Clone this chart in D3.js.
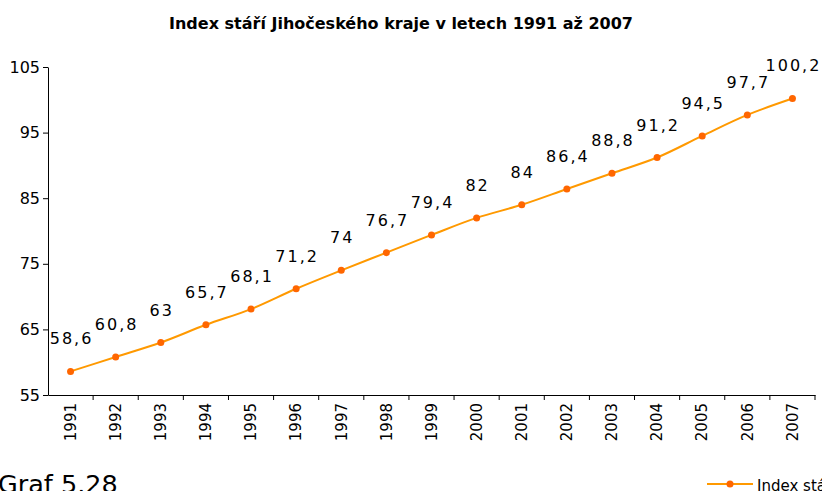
<!DOCTYPE html>
<html>
<head>
<meta charset="utf-8">
<script src="https://cdn.jsdelivr.net/npm/d3@7"></script>
<style>
  body { margin: 0; background: #fff; overflow: hidden; }
  text { font-family: "DejaVu Sans", Verdana, sans-serif; fill: #000; }
</style>
</head>
<body>
<svg width="822" height="491"></svg>
<script>
var years = ["1991","1992","1993","1994","1995","1996","1997","1998","1999","2000","2001","2002","2003","2004","2005","2006","2007"];
var values = [58.6, 60.8, 63, 65.7, 68.1, 71.2, 74, 76.7, 79.4, 82, 84, 86.4, 88.8, 91.2, 94.5, 97.7, 100.2];
var yTicks = [55, 65, 75, 85, 95, 105];
var seriesName = "Index stáří";

var svg = d3.select("svg"),
  width = +svg.attr("width"),
  height = +svg.attr("height");

var margin = {left: 48, right: 7, top: 67, bottom: 96};

var x = d3.scaleBand()
  .domain(years)
  .range([margin.left, width - margin.right]);

var y = d3.scaleLinear()
  .domain([55, 105])
  .range([height - margin.bottom, margin.top]);

var fmt = function(v) { return String(v).replace(".", ","); };

// title
svg.append("text")
  .attr("x", 401)
  .attr("y", 29)
  .attr("text-anchor", "middle")
  .style("font-size", "16px")
  .style("font-weight", "bold")
  .text("Index stáří Jihočeského kraje v letech 1991 až 2007");

// y axis
var yAxis = svg.append("g")
  .attr("transform", "translate(" + margin.left + ",0)")
  .call(d3.axisLeft(y).tickValues(yTicks).tickSize(5).tickSizeOuter(0));
yAxis.selectAll("text").style("font-size", "16px").attr("x", -8);

// x axis, ticks sit on the band edges
var xAxis = svg.append("g")
  .attr("transform", "translate(0," + y(55) + ")")
  .call(d3.axisBottom(x).tickSize(0).tickSizeOuter(0));
xAxis.selectAll("text")
  .style("font-size", "15px")
  .attr("transform", "rotate(-90)")
  .attr("text-anchor", "end")
  .attr("x", -8)
  .attr("y", 0)
  .attr("dy", "0.35em");

xAxis.selectAll(".edge")
  .data(years)
  .enter().append("line")
  .attr("x1", function(d) { return x(d) + x.bandwidth(); })
  .attr("x2", function(d) { return x(d) + x.bandwidth(); })
  .attr("y1", 0)
  .attr("y2", 5)
  .attr("stroke", "#000");

svg.selectAll(".domain").attr("stroke", "#000");
svg.selectAll(".tick line").attr("stroke", "#000");

var cx = function(i) { return x(years[i]) + x.bandwidth() / 2; };

var line = d3.line()
  .x(function(d, i) { return cx(i); })
  .y(function(d) { return y(d); })
  .curve(d3.curveCatmullRom.alpha(0.5));

svg.append("path")
  .datum(values)
  .attr("fill", "none")
  .attr("stroke", "#FF9900")
  .attr("stroke-width", 2)
  .attr("d", line);

svg.selectAll(".pt")
  .data(values)
  .enter().append("circle")
  .attr("cx", function(d, i) { return cx(i); })
  .attr("cy", function(d) { return y(d); })
  .attr("r", 3.5)
  .attr("fill", "#FF6600");

svg.selectAll(".lbl")
  .data(values)
  .enter().append("text")
  .attr("x", function(d, i) { return cx(i) + 1; })
  .attr("y", function(d) { return y(d) - 27; })
  .attr("text-anchor", "middle")
  .style("font-size", "16px")
  .style("letter-spacing", "2px")
  .text(fmt);

// caption
svg.append("text")
  .attr("x", -2)
  .attr("y", 493)
  .style("font-size", "25.5px")
  .text("Graf 5.28");

// legend
svg.append("line")
  .attr("x1", 707).attr("x2", 753)
  .attr("y1", 484).attr("y2", 484)
  .attr("stroke", "#FF9900").attr("stroke-width", 2);
svg.append("circle")
  .attr("cx", 730).attr("cy", 484).attr("r", 3.5)
  .attr("fill", "#FF6600");
svg.append("text")
  .attr("x", 757).attr("y", 491)
  .style("font-size", "15px")
  .text(seriesName);
</script>
</body>
</html>
